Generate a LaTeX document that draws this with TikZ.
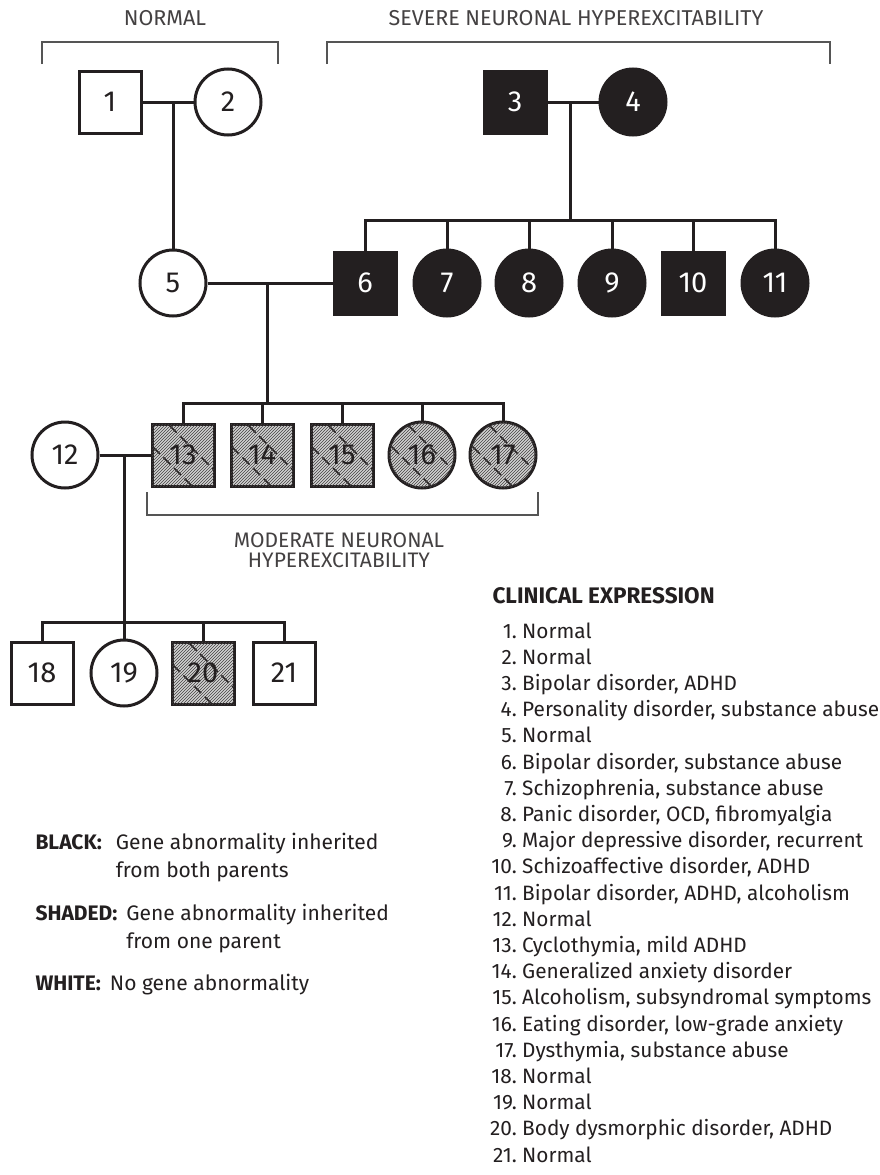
\documentclass[tikz,border=0pt]{standalone}
\usepackage{fontspec}
\setmainfont{Fira Sans}
\usetikzlibrary{patterns}

\def \squareSize {62pt}
\def \circleSize {66pt}
\def \lineW {3pt}

\definecolor{ink}{HTML}{231F20}
\definecolor{brk}{HTML}{555555}

\tikzset{
  person/.style={draw=ink, line width=\lineW, inner sep=0pt, text=ink,
    font=\fontsize{29}{29}\selectfont},
  male/.style={person, rectangle, minimum size=\squareSize},
  female/.style={person, circle, minimum size=\circleSize},
  severe/.style={fill=ink, text=white},
  moderate/.style={fill=gray!35,
    postaction={pattern=north east lines, pattern color=ink!85},
    path picture={
      \foreach \d in {-22,16}
        \draw[ink, line width=1.6pt, dash pattern=on 10pt off 5pt]
          ([shift={(\d-40,-40)}]path picture bounding box.center) -- ++(80,80);
    }},
  link/.style={draw=ink, line width=\lineW},
  bracket/.style={draw=brk, line width=2pt},
  heading/.style={text=ink!85, font=\fontsize{21.5}{21.5}\selectfont},
  keytext/.style={text=ink, font=\fontsize{21}{21}\selectfont},
  listtext/.style={text=ink, font=\fontsize{20.8}{21}\selectfont},
}

\begin{document}
\begin{tikzpicture}[x=1pt, y=-1pt]
  \useasboundingbox[fill=white] (0,0) rectangle (880,1175);

  % brackets and group titles
  \draw[bracket] (42,64) -- (42,42) -- (278,42) -- (278,64);
  \node[heading] (tNormal) at (165,18) {NORMAL};
  \draw[bracket] (327,64) -- (327,42) -- (830,42) -- (830,64);
  \node[heading] (tSevere) at (576,18) {SEVERE NEURONAL HYPEREXCITABILITY};
  \draw[bracket] (147,492) -- (147,515) -- (538,515) -- (538,492);
  \node[heading, align=center, font=\fontsize{21}{20}\selectfont] (tModerate) at (339,550)
    {MODERATE NEURONAL\\HYPEREXCITABILITY};

  % generation I
  \node[male] (p1) at (110,102) {1};
  \node[female] (p2) at (228,102) {2};
  \node[male, severe] (p3) at (515,102) {3};
  \node[female, severe] (p4) at (633,102) {4};

  % generation II
  \node[female] (p5) at (173,283) {5};
  \node[male, severe] (p6) at (365,283) {6};
  \node[female, severe] (p7) at (447,283) {7};
  \node[female, severe] (p8) at (529,283) {8};
  \node[female, severe] (p9) at (612,283) {9};
  \node[male, severe] (p10) at (693,283) {10};
  \node[female, severe] (p11) at (775,283) {11};

  % generation III
  \node[female] (p12) at (65,455) {12};
  \node[male, moderate] (p13) at (183,455) {13};
  \node[male, moderate] (p14) at (262,455) {14};
  \node[male, moderate] (p15) at (342,455) {15};
  \node[female, moderate] (p16) at (422,455) {16};
  \node[female, moderate] (p17) at (503,455) {17};

  % generation IV
  \node[male] (p18) at (42,673) {18};
  \node[female] (p19) at (124,673) {19};
  \node[male, moderate] (p20) at (203,673) {20};
  \node[male] (p21) at (284,673) {21};

  % couples and their children
  \draw[link] (p1) -- (p2);
  \coordinate (m12) at (173,102);
  \draw[link] (m12) -- (p5);

  \draw[link] (p3) -- (p4);
  \coordinate (m34) at (570,102);
  \coordinate (s34) at (570,220);
  \draw[link] (m34) -- (s34);
  \draw[link] (p6.north) |- (p11.north |- s34) -- (p11.north);
  \foreach \k in {7,...,10}
    \draw[link] (p\k.north) -- (p\k.north |- s34);

  \draw[link] (p5) -- (p6);
  \coordinate (m56) at (267,283);
  \coordinate (s56) at (267,403);
  \draw[link] (m56) -- (s56);
  \draw[link] (p13.north) |- (p17.north |- s56) -- (p17.north);
  \foreach \k in {14,...,16}
    \draw[link] (p\k.north) -- (p\k.north |- s56);

  \draw[link] (p12) -- (p13);
  \coordinate (m1213) at (124,455);
  \coordinate (s1213) at (124,622);
  \draw[link] (m1213) -- (s1213);
  \draw[link] (p18.north) |- (p21.north |- s1213) -- (p21.north);
  \foreach \k in {19,20}
    \draw[link] (p\k.north) -- (p\k.north |- s1213);

  % key
  \node[keytext, anchor=base west] (kBlack) at (32,849) {\textbf{BLACK:}};
  \node[keytext, anchor=base west, xshift=7pt] (dBlack) at (kBlack.base east)
    {\begin{tabular}[t]{@{}l@{}}Gene abnormality inherited\\[6pt]from both parents\end{tabular}};
  \node[keytext, anchor=base west] (kShaded) at (32,920) {\textbf{SHADED:}};
  \node[keytext, anchor=base west, xshift=2pt] (dShaded) at (kShaded.base east)
    {\begin{tabular}[t]{@{}l@{}}Gene abnormality inherited\\[6pt]from one parent\end{tabular}};
  \node[keytext, anchor=base west] (kWhite) at (32,990) {\textbf{WHITE:}};
  \node[keytext, anchor=base west, xshift=2pt] (dWhite) at (kWhite.base east)
    {No gene abnormality};

  % clinical expression
  \node[listtext, anchor=base west, font=\fontsize{22.5}{22.5}\selectfont\bfseries]
    (cHead) at (489,603) {CLINICAL EXPRESSION};
  \foreach \k/\txt [evaluate=\k as \yy using 638+26.2*(\k-1)] in {
      1/Normal, 2/Normal, 3/{Bipolar disorder, ADHD},
      4/{Personality disorder, substance abuse}, 5/Normal,
      6/{Bipolar disorder, substance abuse}, 7/{Schizophrenia, substance abuse},
      8/{Panic disorder, OCD, fibromyalgia}, 9/{Major depressive disorder, recurrent},
      10/{Schizoaffective disorder, ADHD}, 11/{Bipolar disorder, ADHD, alcoholism},
      12/Normal, 13/{Cyclothymia, mild ADHD}, 14/{Generalized anxiety disorder},
      15/{Alcoholism, subsyndromal symptoms}, 16/{Eating disorder, low-grade anxiety},
      17/{Dysthymia, substance abuse}, 18/Normal, 19/Normal,
      20/{Body dysmorphic disorder, ADHD}, 21/Normal} {
    \node[listtext, anchor=base east, inner xsep=0pt] (n\k) at (517,\yy) {\k.};
    \node[listtext, anchor=base west, inner xsep=0pt] (t\k) at (522,\yy) {\txt};
  }
\end{tikzpicture}
\end{document}
